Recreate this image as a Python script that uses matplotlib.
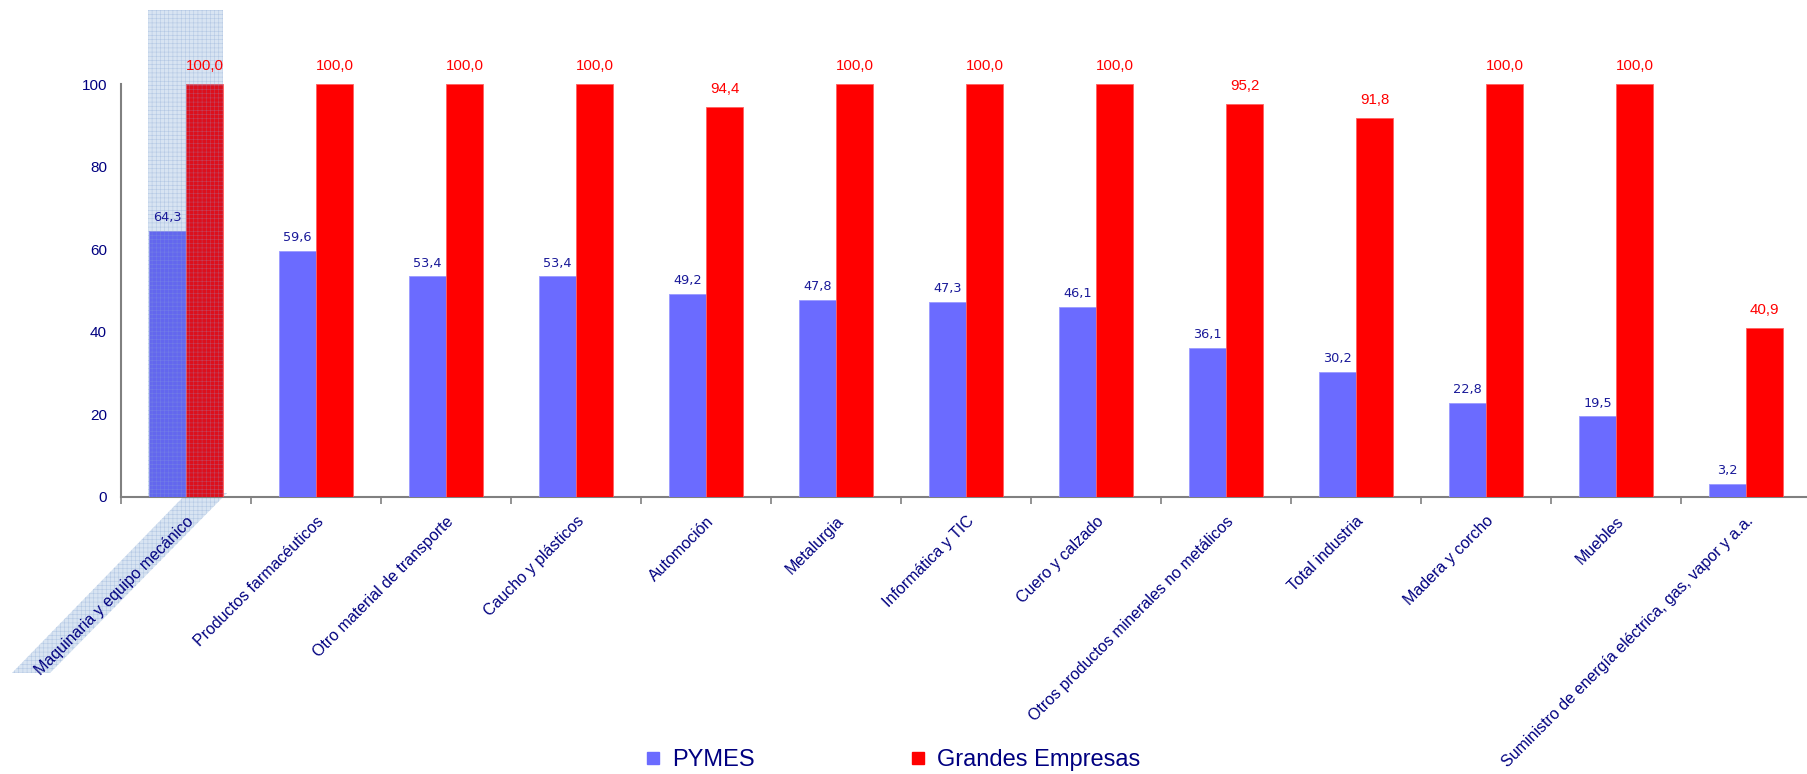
import matplotlib.pyplot as plt
from matplotlib.patches import Rectangle, Polygon
from matplotlib.lines import Line2D
import numpy as np

# sectors, ordered as in the chart
categories = ['Maquinaria y equipo mecánico', 'Productos farmacéuticos',
              'Otro material de transporte', 'Caucho y plásticos', 'Automoción',
              'Metalurgia', 'Informática y TIC', 'Cuero y calzado',
              'Otros productos minerales no metálicos', 'Total industria',
              'Madera y corcho', 'Muebles',
              'Suministro de energía eléctrica, gas, vapor y a.a.']
pymes = [64.3, 59.6, 53.4, 53.4, 49.2, 47.8, 47.3, 46.1, 36.1, 30.2, 22.8, 19.5, 3.2]
grandes = [100.0, 100.0, 100.0, 100.0, 94.4, 100.0, 100.0, 100.0, 95.2, 91.8, 100.0, 100.0, 40.9]

navy = '#000080'
blue = '#6b6bff'
red = '#ff0000'

plt.rcParams['hatch.linewidth'] = 0.4

W, H = 1807, 774
fig = plt.figure(figsize=(W / 100, H / 100), dpi=100)
ax = fig.add_axes([121 / W, 1 - 497 / H, 1690 / W, 413 / H])
ax.set_zorder(2)
ax.patch.set_alpha(0)

x = np.arange(len(categories))
bw = 0.285
ax.bar(x - bw / 2, pymes, bw, color=blue, edgecolor='#9a9aff', linewidth=0.6, zorder=3)
ax.bar(x + bw / 2, grandes, bw, color=red, edgecolor='#ff6060', linewidth=0.6, zorder=3)

for i in range(len(categories)):
    ax.annotate(f'{pymes[i]:.1f}'.replace('.', ','), (x[i] - bw / 2, pymes[i]),
                xytext=(0, 5), textcoords='offset points', ha='center', va='bottom',
                color='#1a1a99', fontsize=9.3, family='DejaVu Sans', annotation_clip=False, zorder=5)
    ax.annotate(f'{grandes[i]:.1f}'.replace('.', ','), (x[i] + bw / 2, grandes[i]),
                xytext=(0, 8), textcoords='offset points', ha='center', va='bottom',
                color=red, fontsize=10.8, family='Liberation Sans', annotation_clip=False, zorder=5)

ax.set_xlim(-0.5, len(categories) - 0.5)
ax.set_ylim(0, 100)
ax.set_yticks([0, 20, 40, 60, 80, 100])
ax.tick_params(axis='y', length=0, pad=10, labelsize=11, labelcolor=navy)
for lab in ax.get_yticklabels():
    lab.set_family('Liberation Sans')
ax.set_xticks(x - 0.5)
ax.set_xticklabels([])
ax.tick_params(axis='x', length=5, color='#808080', width=1.2)
for i, c in enumerate(categories):
    ax.text(x[i], -4, c, rotation=45, ha='right', va='top', rotation_mode='anchor',
            fontsize=11.5, color=navy, family='Liberation Sans')

for s in ['top', 'right']:
    ax.spines[s].set_visible(False)
for s in ['left', 'bottom']:
    ax.spines[s].set_color('#808080')
    ax.spines[s].set_linewidth(1.5)

# selection highlight on the first category
hl_face = '#d8e4f2'
hl_grid = '#b4c8e4'
fig.patches.append(Rectangle((148 / W, 1 - 497 / H), 75 / W, 487 / H, transform=fig.transFigure,
                             facecolor=hl_face, edgecolor=hl_grid, hatch='++++', linewidth=0, zorder=0))
band = [(187, 493), (227, 493), (50, 673), (12, 673)]
fig.patches.append(Polygon([(px / W, 1 - py / H) for px, py in band], closed=True,
                           transform=fig.transFigure, facecolor=hl_face, edgecolor=hl_grid,
                           hatch='++++', linewidth=0, zorder=0))
# tint over the two highlighted bars only
ax.bar([x[0] - bw / 2, x[0] + bw / 2], [pymes[0], grandes[0]], bw,
       color=(0.25, 0.35, 0.65, 0.18), edgecolor=(0.55, 0.65, 0.85, 0.35),
       hatch='++++', linewidth=0, zorder=4)

handles = [Line2D([], [], marker='s', linestyle='none', markersize=9, color=blue),
           Line2D([], [], marker='s', linestyle='none', markersize=9, color=red)]
fig.legend(handles, ['PYMES', 'Grandes Empresas'], loc='center', ncol=2,
           bbox_to_anchor=(0.493, 1 - 760 / H), frameon=False, columnspacing=6.4,
           handlelength=1.0, handletextpad=0.3,
           prop={'family': 'Liberation Sans', 'size': 17}, labelcolor=navy)

fig.savefig('out.png', dpi=100)
